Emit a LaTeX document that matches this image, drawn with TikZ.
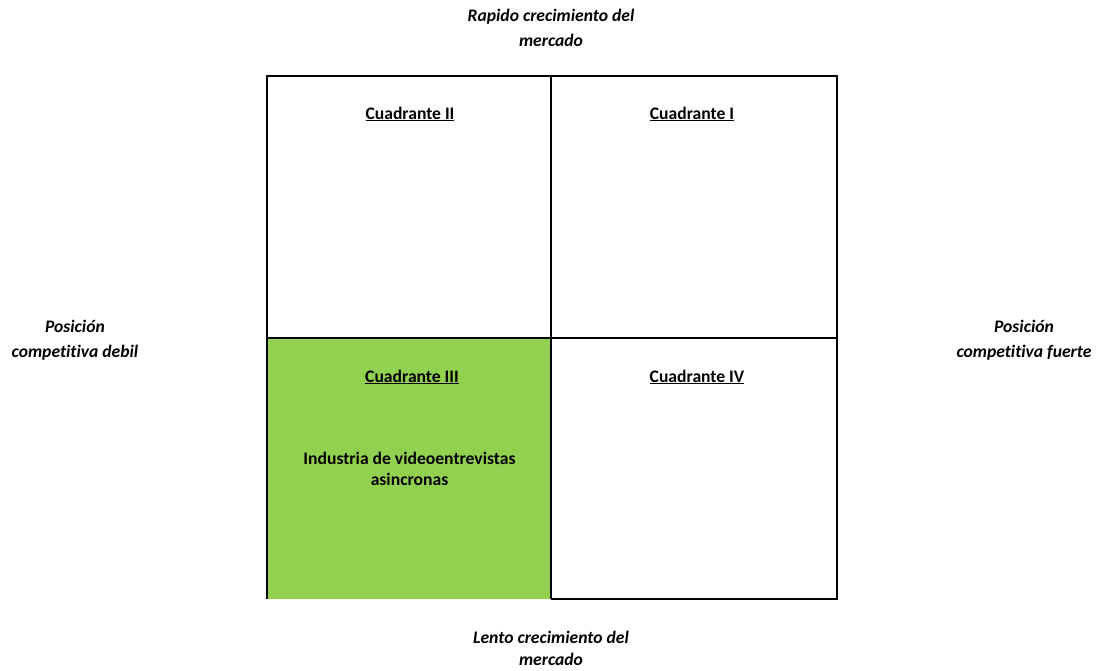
\documentclass[tikz,border=0pt]{standalone}
\usepackage{fontspec}
\setmainfont{Carlito}[Ligatures=NoCommon]
\definecolor{cellgreen}{HTML}{92D050}
\begin{document}
\begin{tikzpicture}[x=1pt,y=-1pt,
  axislabel/.style={font=\fontsize{17.6}{25}\selectfont\bfseries\itshape, align=center, inner sep=0pt},
  quadtitle/.style={font=\fontsize{17.6}{20}\selectfont\bfseries, inner sep=0pt},
  celltext/.style={font=\fontsize{17.6}{21}\selectfont\bfseries, align=center, inner sep=0pt},
  gridline/.style={line width=2pt, black}]
\useasboundingbox (0,0) rectangle (1098,670);
% quadrant III background
\fill[cellgreen] (267,338) rectangle (551,599);
% grid lines
\draw[gridline] (267,599) -- (267,76) -- (837,76) -- (837,599) -- (551,599);
\draw[gridline] (551,76) -- (551,599);
\draw[gridline] (267,338) -- (837,338);
% quadrant titles
\node[quadtitle] (q2) at (410,114) {\underline{Cuadrante II}};
\node[quadtitle] (q1) at (692,114) {\underline{Cuadrante I}};
\node[quadtitle] (q3) at (412,377) {\underline{Cuadrante III}};
\node[quadtitle] (q4) at (697,377) {\underline{Cuadrante IV}};
\node[celltext] (ind) at (409.5,469) {Industria de videoentrevistas\\asincronas};
% axis labels
\node[axislabel] (top) at (551,27.5) {Rapido crecimiento del\\mercado};
\node[axislabel, font=\fontsize{17.6}{22}\selectfont\bfseries\itshape] (bottom) at (551,648) {Lento crecimiento del\\mercado};
\node[axislabel] (left) at (75,340) {Posición\\competitiva debil};
\node[axislabel] (right) at (1024,340) {Posición\\competitiva fuerte};
\end{tikzpicture}
\end{document}
